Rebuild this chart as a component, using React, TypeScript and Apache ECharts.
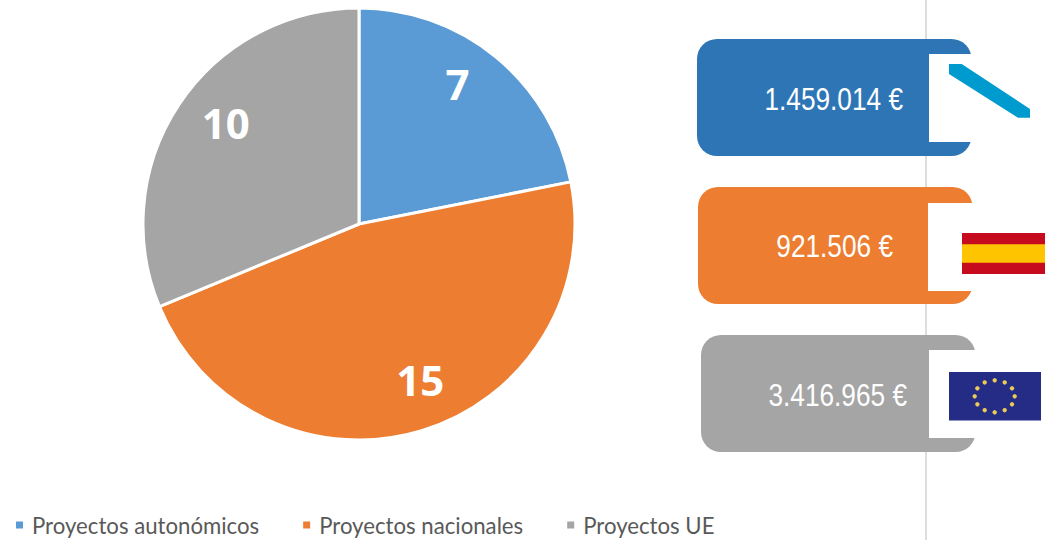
import React, { useEffect, useRef } from "react";
import * as echarts from "echarts";

const categories = ["Proyectos autonómicos", "Proyectos nacionales", "Proyectos UE"];
const projectCounts = [7, 15, 10];
const sliceColors = ["#5B9BD5", "#ED7D31", "#A5A5A5"];
const amounts = ["1.459.014 €", "921.506 €", "3.416.965 €"];
const boxColors = ["#2E75B6", "#ED7D31", "#A5A5A5"];
const labelOffsets = [[28, -55], [29, 49], [-41, -40]];
const boxes = [
  { x: 697, y: 39, notchX: 929, notchY: 54, notchH: 88, textRight: 903, textY: 99 },
  { x: 698, y: 187, notchX: 928, notchY: 203, notchH: 88, textRight: 893, textY: 246 },
  { x: 701, y: 335, notchX: 929, notchY: 350, notchH: 88, textRight: 907, textY: 395 },
];
const euStarCount = 12;

export default function App() {
  const ref = useRef<HTMLDivElement>(null);
  useEffect(() => {
    const chart = echarts.init(ref.current!, null, { renderer: "svg" });
    const graphic: any[] = [
      { type: "line", z: 0, shape: { x1: 926, y1: 0, x2: 926, y2: 540 }, style: { stroke: "#D2D2D2", lineWidth: 1.5 } },
    ];
    boxes.forEach((b, i) => {
      graphic.push(
        { type: "rect", z: 1, shape: { x: b.x, y: b.y, width: 274.5, height: 117, r: 20 }, style: { fill: boxColors[i] } },
        { type: "rect", z: 2, shape: { x: b.notchX, y: b.notchY, width: 60, height: b.notchH }, style: { fill: "#FFFFFF" } },
        {
          type: "text", z: 3, x: b.textRight, y: b.textY, scaleX: 0.82,
          style: {
            text: amounts[i], fill: "#FFFFFF", align: "right", verticalAlign: "middle",
            font: "32px 'Liberation Sans', sans-serif",
          },
        }
      );
    });
    // Galicia stripe
    graphic.push({
      type: "polygon", z: 3,
      shape: { points: [[949, 64], [961.7, 64], [1030, 109], [1030, 117.7], [1018, 117.7], [949, 74]] },
      style: { fill: "#009BCE" },
    });
    // Spain flag
    graphic.push(
      { type: "rect", z: 3, shape: { x: 962, y: 233, width: 83, height: 41 }, style: { fill: "#C60B1E" } },
      { type: "rect", z: 4, shape: { x: 962, y: 244.3, width: 83, height: 18.4 }, style: { fill: "#FFC400" } }
    );
    // EU flag
    graphic.push({ type: "rect", z: 3, shape: { x: 949, y: 372, width: 92, height: 48.5 }, style: { fill: "#252C85" } });
    for (let i = 0; i < euStarCount; i++) {
      const a = (i / euStarCount) * Math.PI * 2;
      graphic.push({
        type: "circle", z: 4,
        shape: { cx: 994.7 + 20 * Math.sin(a), cy: 396.3 - 16 * Math.cos(a), r: 2.2 },
        style: { fill: "#E9CB55" },
      });
    }

    chart.setOption({
      animation: false,
      backgroundColor: "#FFFFFF",
      legend: {
        left: 14, top: 514, padding: 0, itemWidth: 9, itemHeight: 9, itemGap: 42,
        icon: "rect",
        textStyle: { color: "#595959", fontSize: 22.2, fontFamily: "Lato", padding: [0, 0, 0, 3] },
        data: categories,
      },
      graphic,
      series: [{
        type: "pie",
        center: [359, 224],
        radius: [0, 216],
        startAngle: 90,
        clockwise: true,
        silent: true,
        itemStyle: { borderColor: "#FFFFFF", borderWidth: 3 },
        label: {
          show: true, position: "inside", formatter: "{c}", color: "#FFFFFF",
          fontSize: 42, fontWeight: "bold", fontFamily: "Open Sans",
        },
        labelLine: { show: false },
        labelLayout: (p: any) => ({ dx: labelOffsets[p.dataIndex][0], dy: labelOffsets[p.dataIndex][1] }),
        data: categories.map((name, i) => ({ name, value: projectCounts[i], itemStyle: { color: sliceColors[i] } })),
      }],
    });
    return () => chart.dispose();
  }, []);
  return <div ref={ref} style={{ position: "fixed", left: 0, top: 0, width: 1054, height: 540 }} />;
}
